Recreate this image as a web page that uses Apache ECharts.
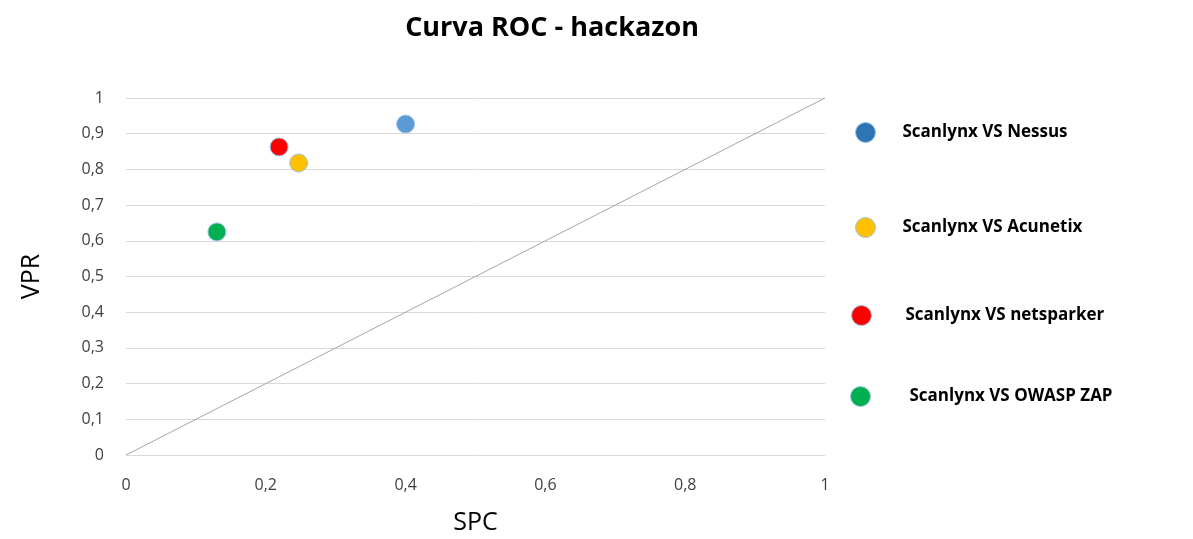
<!DOCTYPE html>
<html>
<head>
<meta charset="utf-8">
<script src="https://cdn.jsdelivr.net/npm/echarts@6/dist/echarts.min.js"></script>
<style>html,body{margin:0;padding:0;background:#fff;}#c{width:1193px;height:539px;}</style>
</head>
<body>
<div id="c"></div>
<script>
const seriesNames = ["Scanlynx VS Nessus", "Scanlynx VS Acunetix", "Scanlynx VS netsparker", "Scanlynx VS OWASP ZAP"];
const spcValues = [0.40, 0.247, 0.219, 0.13];
const vprValues = [0.927, 0.818, 0.863, 0.625];
const diagonal = [[0, 0], [1, 1]];
const pointColors = ["#5B9BD5", "#FFC000", "#FF0000", "#00B050"];
const legendColors = ["#2E75B6", "#FFC000", "#FF0000", "#00B050"];
const legendTops = [122, 217, 305, 386];
const legendLefts = [855, 855, 851, 850];
const legendTextPad = [22, 22, 29, 34];

const comma = v => String(v).replace('.', ',');

const series = seriesNames.map((n, i) => ({
  name: n,
  type: 'scatter',
  symbolSize: 18,
  data: [[spcValues[i], vprValues[i]]],
  itemStyle: { color: pointColors[i], borderColor: '#9DC3E6', borderWidth: 1, opacity: 1 },
  z: 5
}));
series.push({
  name: 'diag',
  type: 'line',
  data: diagonal,
  symbol: 'none',
  lineStyle: { color: '#A6A6A6', width: 1 },
  silent: true,
  z: 2
});

const legends = seriesNames.map((n, i) => ({
  data: [{ name: n, itemStyle: { color: legendColors[i], borderColor: '#9DC3E6', borderWidth: 1, opacity: 1 } }],
  left: legendLefts[i],
  top: legendTops[i],
  icon: 'circle',
  itemWidth: 20,
  itemHeight: 20,
  padding: 0,
  selectedMode: false,
  textStyle: { fontFamily: 'Open Sans', fontWeight: 'bold', fontSize: 17, color: '#000', padding: [0, 0, 0, legendTextPad[i]] }
}));

const chart = echarts.init(document.getElementById('c'));
chart.setOption({
  animation: false,
  title: {
    text: 'Curva ROC - hackazon',
    left: 547, top: 10, textAlign: 'center',
    textStyle: { fontFamily: 'Open Sans', fontWeight: 'bold', fontSize: 27, color: '#000' }
  },
  legend: legends,
  grid: { left: 126, right: 368, top: 98, bottom: 84, outerBoundsMode: 'none', containLabel: false },
  xAxis: {
    type: 'value', min: 0, max: 1, interval: 0.2,
    name: 'SPC', nameLocation: 'middle', nameGap: 55,
    nameTextStyle: { fontFamily: 'Open Sans', fontSize: 25, color: '#000' },
    axisLine: { show: false }, axisTick: { show: false },
    splitLine: { show: false },
    axisLabel: { formatter: comma, fontFamily: 'Open Sans', fontSize: 16, color: '#404040', margin: 22 }
  },
  yAxis: {
    type: 'value', min: 0, max: 1, interval: 0.1,
    name: 'VPR', nameLocation: 'middle', nameGap: 82, nameRotate: 90,
    nameTextStyle: { fontFamily: 'Open Sans', fontSize: 25, color: '#000' },
    axisLine: { show: false }, axisTick: { show: false },
    splitLine: { lineStyle: { color: '#D9D9D9', width: 1 } },
    axisLabel: { formatter: v => comma(Math.round(v * 10) / 10), fontFamily: 'Open Sans', fontSize: 16, color: '#404040', margin: 22 }
  },
  series: series
});
</script>
</body>
</html>
